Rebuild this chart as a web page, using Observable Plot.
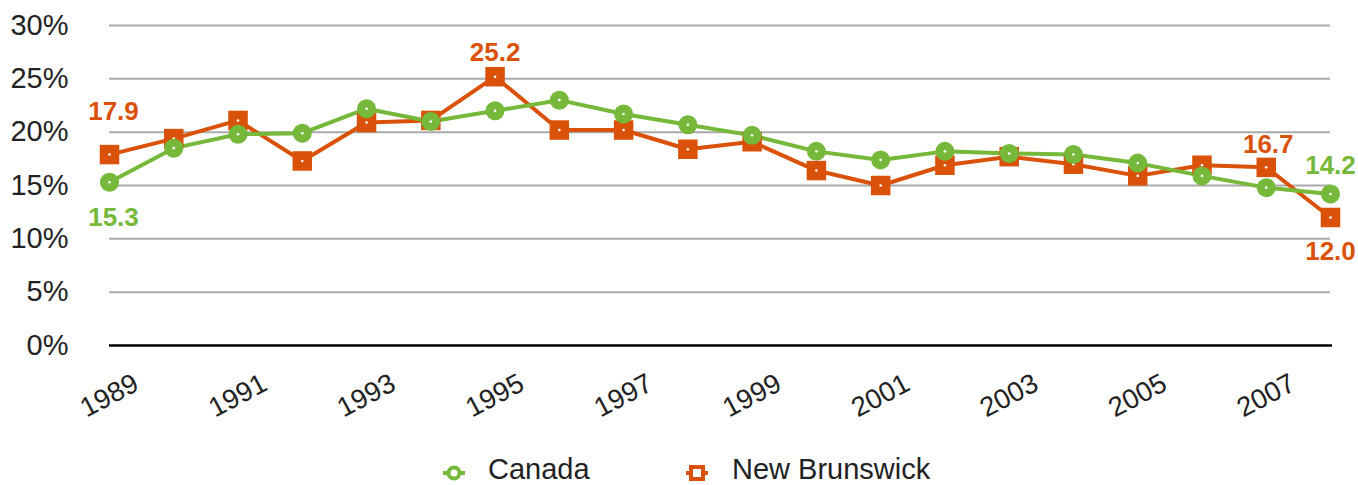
<!DOCTYPE html>
<html>
<head>
<meta charset="utf-8">
<script src="https://cdn.jsdelivr.net/npm/d3@7"></script>
<script src="https://cdn.jsdelivr.net/npm/@observablehq/plot@0.6"></script>
<style>
  html, body { margin: 0; padding: 0; background: #fff; }
  body { width: 1358px; height: 485px; overflow: hidden; font-family: "Liberation Sans", Arial, Helvetica, sans-serif; }
  #chart { width: 1358px; height: 420px; }
  #chart svg { display: block; }
  #legend { display: block; }
</style>
</head>
<body>
<div id="chart"></div>
<svg id="legend" width="1358" height="65"></svg>
<script>
const years = [1989, 1990, 1991, 1992, 1993, 1994, 1995, 1996, 1997, 1998, 1999, 2000, 2001, 2002, 2003, 2004, 2005, 2006, 2007, 2008];
const canada = [15.3, 18.5, 19.8, 19.9, 22.2, 21.0, 22.0, 23.0, 21.7, 20.7, 19.7, 18.2, 17.4, 18.2, 18.0, 17.9, 17.1, 15.9, 14.8, 14.2];
const newBrunswick = [17.9, 19.4, 21.1, 17.3, 20.9, 21.1, 25.2, 20.2, 20.2, 18.4, 19.1, 16.4, 15.0, 16.9, 17.7, 17.0, 15.9, 16.9, 16.7, 12.0];
const seriesNames = ["Canada", "New Brunswick"];
const xTickYears = [1989, 1991, 1993, 1995, 1997, 1999, 2001, 2003, 2005, 2007];
const yTicks = [0, 5, 10, 15, 20, 25, 30];
const gridTicks = [5, 10, 15, 20, 25, 30];

const green = "#76b83a";
const orange = "#da5209";
const font = "'Liberation Sans', Arial, Helvetica, sans-serif";

const canadaRows = years.map((y, i) => ({year: y, value: canada[i]}));
const nbRows = years.map((y, i) => ({year: y, value: newBrunswick[i]}));
const last = years.length - 1;
const idxNB2007 = years.indexOf(2007);
const idxNB1995 = years.indexOf(1995);

const fmt = v => v.toFixed(1);
const lbl = {fill: orange, fontWeight: "bold", fontSize: 26};

const chart = Plot.plot({
  width: 1358,
  height: 420,
  marginLeft: 109,
  marginRight: 28,
  marginTop: 25,
  marginBottom: 75,
  style: {fontFamily: font, background: "#fff", overflow: "visible"},
  x: {type: "linear", domain: [1989, 2008], axis: null},
  y: {domain: [0, 30], axis: null},
  marks: [
    Plot.ruleY(gridTicks, {stroke: "#aaaaaa", strokeWidth: 2}),
    Plot.ruleY([0], {stroke: "#000", strokeWidth: 2.5, insetRight: -2}),
    Plot.axisY({ticks: yTicks, tickFormat: d => d + "%", tickSize: 0, tickPadding: 41, fontSize: 29, fill: "#222", label: null}),
    Plot.text(xTickYears, {x: d => d, frameAnchor: "bottom", rotate: -28, dy: 58, dx: 4, fontSize: 27.5, fill: "#222", text: d => String(d)}),
    Plot.line(nbRows, {x: "year", y: "value", stroke: orange, strokeWidth: 4}),
    Plot.line(canadaRows, {x: "year", y: "value", stroke: green, strokeWidth: 4}),
    Plot.dot(nbRows, {x: "year", y: "value", symbol: "square", r: 11, fill: orange, stroke: null}),
    Plot.dot(nbRows, {x: "year", y: "value", r: 1.3, fill: "#fff", stroke: null}),
    Plot.dot(canadaRows, {x: "year", y: "value", r: 9.5, fill: green, stroke: null}),
    Plot.dot(canadaRows, {x: "year", y: "value", r: 1.3, fill: "#fff", stroke: null}),
    // data labels
    Plot.text([nbRows[0]], {x: "year", y: "value", text: d => fmt(d.value), dy: -43, dx: 4, ...lbl}),
    Plot.text([canadaRows[0]], {x: "year", y: "value", text: d => fmt(d.value), dy: 35, dx: 4, ...lbl, fill: green}),
    Plot.text([nbRows[idxNB1995]], {x: "year", y: "value", text: d => fmt(d.value), dy: -24, ...lbl}),
    Plot.text([nbRows[idxNB2007]], {x: "year", y: "value", text: d => fmt(d.value), dy: -23, dx: 2, ...lbl}),
    Plot.text([canadaRows[last]], {x: "year", y: "value", text: d => fmt(d.value), dy: -28, ...lbl, fill: green}),
    Plot.text([nbRows[last]], {x: "year", y: "value", text: d => fmt(d.value), dy: 34, ...lbl})
  ]
});
document.getElementById("chart").appendChild(chart);

// Legend (below the plot SVG)
const legend = d3.select("#legend").style("font-family", font);
const legendItems = [
  {name: seriesNames[0], color: green, shape: "circle", cx: 454, tx: 488},
  {name: seriesNames[1], color: orange, shape: "square", cx: 697, tx: 732}
];
for (const it of legendItems) {
  const g = legend.append("g");
  g.append("line").attr("x1", it.cx - 11).attr("x2", it.cx + 11).attr("y1", 53).attr("y2", 53)
    .attr("stroke", it.color).attr("stroke-width", 4);
  if (it.shape === "circle") {
    g.append("circle").attr("cx", it.cx).attr("cy", 53).attr("r", 5.5)
      .attr("fill", "#fff").attr("stroke", it.color).attr("stroke-width", 4);
  } else {
    g.append("rect").attr("x", it.cx - 6).attr("y", 47).attr("width", 12).attr("height", 12)
      .attr("fill", "#fff").attr("stroke", it.color).attr("stroke-width", 4);
  }
  g.append("text").attr("x", it.tx).attr("y", 59).attr("font-size", 29).attr("fill", "#222").text(it.name);
}
</script>
</body>
</html>
